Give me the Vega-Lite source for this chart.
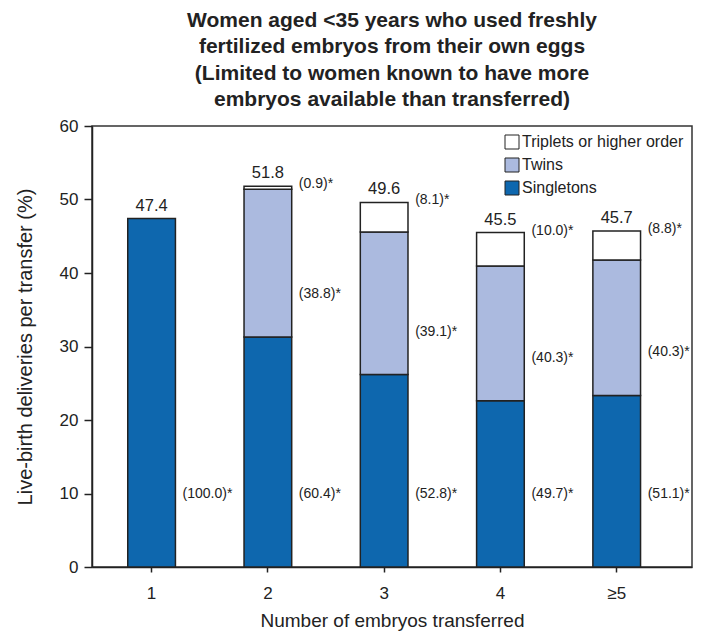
{
  "$schema": "https://vega.github.io/schema/vega-lite/v6.json",
  "width": 600,
  "height": 441,
  "autosize": {"type": "none"},
  "padding": {"left": 92, "top": 126, "right": 14, "bottom": 68},
  "background": "white",
  "config": {
    "font": "Liberation Sans",
    "view": {"stroke": "#333", "strokeWidth": 1.5},
    "axis": {"grid": false, "domainColor": "#222", "domainWidth": 1.5, "tickColor": "#222", "tickWidth": 1.5, "labelColor": "#222", "titleColor": "#222", "labelFont": "Liberation Sans", "titleFont": "Liberation Sans", "titleFontWeight": "normal"}
  },
  "title": {
    "text": ["Women aged <35 years who used freshly", "fertilized embryos from their own eggs", "(Limited to women known to have more", "embryos available than transferred)"],
    "fontSize": 21,
    "fontWeight": "bold",
    "lineHeight": 26.5,
    "anchor": "middle",
    "frame": "group",
    "offset": 7,
    "color": "#222",
    "font": "Liberation Sans"
  },
  "datasets": {
    "segments": [
      {"n": "1", "type": "Singletons", "order": 1, "value": 47.4, "pct": 100.0},
      {"n": "2", "type": "Singletons", "order": 1, "value": 31.29, "pct": 60.4},
      {"n": "2", "type": "Twins", "order": 2, "value": 20.10, "pct": 38.8},
      {"n": "2", "type": "Triplets or higher order", "order": 3, "value": 0.41, "pct": 0.9},
      {"n": "3", "type": "Singletons", "order": 1, "value": 26.19, "pct": 52.8},
      {"n": "3", "type": "Twins", "order": 2, "value": 19.39, "pct": 39.1},
      {"n": "3", "type": "Triplets or higher order", "order": 3, "value": 4.02, "pct": 8.1},
      {"n": "4", "type": "Singletons", "order": 1, "value": 22.61, "pct": 49.7},
      {"n": "4", "type": "Twins", "order": 2, "value": 18.34, "pct": 40.3},
      {"n": "4", "type": "Triplets or higher order", "order": 3, "value": 4.55, "pct": 10.0},
      {"n": "≥5", "type": "Singletons", "order": 1, "value": 23.35, "pct": 51.1},
      {"n": "≥5", "type": "Twins", "order": 2, "value": 18.42, "pct": 40.3},
      {"n": "≥5", "type": "Triplets or higher order", "order": 3, "value": 3.93, "pct": 8.8}
    ],
    "totals": [
      {"n": "1", "total": 47.4},
      {"n": "2", "total": 51.8},
      {"n": "3", "total": 49.6},
      {"n": "4", "total": 45.5},
      {"n": "≥5", "total": 45.7}
    ]
  },
  "encoding": {
    "x": {
      "field": "n",
      "type": "nominal",
      "sort": ["1", "2", "3", "4", "≥5"],
      "scale": {"domain": ["1", "2", "3", "4", "≥5"], "paddingInner": 0.59, "paddingOuter": 0.375, "align": 0.41},
      "axis": {"title": "Number of embryos transferred", "labelAngle": 0, "labelFontSize": 17, "titleFontSize": 19, "tickSize": 5, "labelPadding": 13, "titlePadding": 10, "domain": true}
    }
  },
  "layer": [
    {
      "data": {"name": "segments"},
      "mark": {"type": "bar", "stroke": "#222", "strokeWidth": 1.5},
      "encoding": {
        "y": {
          "field": "value",
          "type": "quantitative",
          "stack": "zero",
          "scale": {"domain": [0, 60], "nice": false},
          "axis": {"title": "Live-birth deliveries per transfer (%)", "values": [0, 10, 20, 30, 40, 50, 60], "labelFontSize": 17, "titleFontSize": 20, "tickSize": 8, "labelPadding": 6, "titlePadding": 24}
        },
        "color": {
          "field": "type",
          "type": "nominal",
          "scale": {"domain": ["Triplets or higher order", "Twins", "Singletons"], "range": ["#ffffff", "#abbadf", "#0e67ae"]},
          "legend": {
            "title": null,
            "orient": "none",
            "legendX": 412,
            "legendY": 8,
            "symbolType": "square",
            "symbolSize": 196,
            "symbolStrokeColor": "#222",
            "symbolStrokeWidth": 1,
            "symbolOpacity": 1,
            "labelFontSize": 16,
            "labelColor": "#222",
            "labelFont": "Liberation Sans",
            "labelLimit": 400,
            "rowPadding": 5,
            "labelOffset": 2
          }
        },
        "order": {"field": "order", "type": "quantitative"}
      }
    },
    {
      "data": {"name": "totals"},
      "mark": {"type": "text", "fontSize": 16.5, "color": "#222", "baseline": "bottom", "dy": -5},
      "encoding": {
        "y": {"field": "total", "type": "quantitative"},
        "text": {"field": "total", "type": "quantitative", "format": ".1f"}
      }
    },
    {
      "data": {"name": "segments"},
      "transform": [
        {"filter": "datum.type === 'Singletons'"},
        {"calculate": "'(' + format(datum.pct, '.1f') + ')*'", "as": "label"}
      ],
      "mark": {"type": "text", "fontSize": 14, "color": "#222", "align": "left", "baseline": "middle", "dx": 31},
      "encoding": {
        "y": {"datum": 10, "type": "quantitative"},
        "text": {"field": "label", "type": "nominal"}
      }
    },
    {
      "data": {"name": "segments"},
      "transform": [
        {"stack": "value", "groupby": ["n"], "sort": [{"field": "order", "order": "ascending"}], "as": ["v0", "v1"]},
        {"filter": "datum.type === 'Twins'"},
        {"calculate": "'(' + format(datum.pct, '.1f') + ')*'", "as": "label"}
      ],
      "mark": {"type": "text", "fontSize": 14, "color": "#222", "align": "left", "baseline": "middle", "dx": 31, "dy": -43},
      "encoding": {
        "y": {"field": "v0", "type": "quantitative"},
        "text": {"field": "label", "type": "nominal"}
      }
    },
    {
      "data": {"name": "segments"},
      "transform": [
        {"stack": "value", "groupby": ["n"], "sort": [{"field": "order", "order": "ascending"}], "as": ["v0", "v1"]},
        {"filter": "datum.type === 'Triplets or higher order'"},
        {"calculate": "'(' + format(datum.pct, '.1f') + ')*'", "as": "label"}
      ],
      "mark": {"type": "text", "fontSize": 14, "color": "#222", "align": "left", "baseline": "middle", "dx": 31, "dy": -2},
      "encoding": {
        "y": {"field": "v1", "type": "quantitative"},
        "text": {"field": "label", "type": "nominal"}
      }
    }
  ]
}
